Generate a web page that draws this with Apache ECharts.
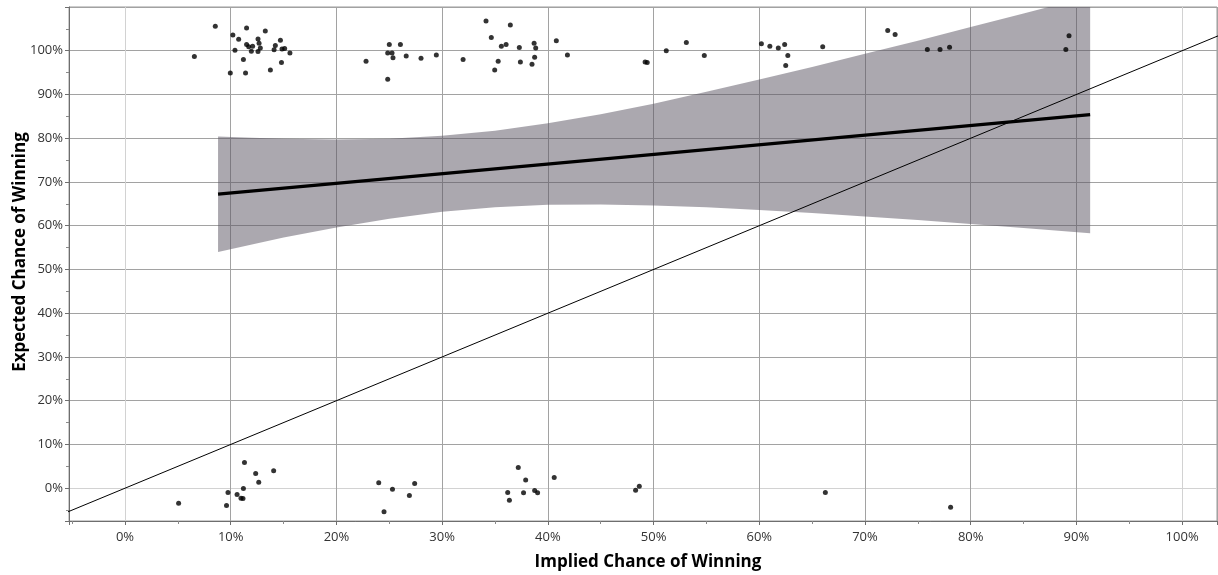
<!DOCTYPE html>
<html>
<head>
<meta charset="utf-8">
<script src="https://cdn.jsdelivr.net/npm/echarts@6/dist/echarts.min.js"></script>
<style>
  html, body { margin: 0; padding: 0; background: #fff; }
  #chart { width: 1218px; height: 575px; }
</style>
</head>
<body>
<div id="chart"></div>
<script>
// outcomes near 100% (won)
var winX = [6.56, 8.54, 10.2, 10.4, 9.96, 10.75, 11.5, 11.5, 11.7, 11.2, 11.4, 11.95, 12.07, 12.58, 12.68, 12.8, 12.58, 13.27, 13.75, 14.22, 14.1, 14.7, 14.85, 15.1, 14.8, 15.6,
    22.8, 24.85, 25.0, 25.26, 25.35, 24.85, 26.05, 26.6, 28.0, 29.45, 31.98,
    34.15, 34.65, 34.97, 35.3, 35.6, 36.05, 36.45, 37.3, 37.4, 38.5, 38.7, 38.85, 38.75, 40.8, 41.85,
    49.2, 49.4, 51.2, 53.1, 54.8, 60.2, 61.0, 61.8, 62.4, 62.7, 62.5, 66.0, 72.15, 72.85, 75.9, 77.1, 78.0, 89.3, 89.0];
var winY = [98.7, 105.6, 103.6, 100.1, 94.9, 102.6, 105.2, 101.4, 100.9, 98.0, 94.9, 99.9, 101.05, 102.7, 101.7, 100.6, 99.8, 104.5, 95.6, 101.2, 100.2, 102.4, 100.4, 100.5, 97.3, 99.5,
    97.6, 99.5, 101.4, 99.5, 98.4, 93.5, 101.4, 98.8, 98.3, 99.0, 98.0,
    106.8, 103.0, 95.6, 97.6, 101.0, 101.4, 105.9, 100.75, 97.4, 96.9, 101.7, 100.6, 98.5, 102.3, 99.0,
    97.4, 97.3, 100.0, 101.9, 98.9, 101.6, 101.0, 100.6, 101.4, 98.9, 96.6, 100.9, 104.6, 103.7, 100.3, 100.3, 100.8, 103.4, 100.3];
// outcomes near 0% (lost)
var lossX = [5.07, 9.6, 9.74, 10.6, 10.97, 11.16, 11.2, 11.3, 12.36, 12.65, 14.06, 24.0, 24.5, 25.3, 26.9, 27.4,
    36.2, 36.36, 37.2, 37.9, 37.7, 38.75, 39.03, 40.6, 48.3, 48.65, 66.25, 78.1];
var lossY = [-3.43, -3.96, -0.99, -1.45, -2.28, -2.36, -0.08, 5.86, 3.35, 1.37, 3.96, 1.22, -5.4, -0.23, -1.68, 1.07,
    -0.99, -2.74, 4.72, 1.9, -1.07, -0.53, -1.07, 2.44, -0.46, 0.46, -0.99, -4.34];

// fit line and its confidence band
var fitX = [8.8, 91.3];
var fitY = [67.2, 85.4];
var bandX = [8.8, 12, 15, 20, 25, 30, 35, 40, 45, 50, 55, 60, 65, 70, 75, 80, 85, 91.3];
var bandUpper = [80.4, 80.1, 79.9, 79.7, 79.9, 80.55, 81.7, 83.4, 85.5, 87.9, 90.6, 93.4, 96.3, 99.3, 102.3, 105.4, 108.5, 112.5];
var bandLower = [54.0, 55.7, 57.3, 59.6, 61.6, 63.2, 64.2, 64.8, 64.85, 64.6, 64.2, 63.6, 62.9, 62.1, 61.3, 60.4, 59.5, 58.3];

// y = x reference
var refEnds = [-6, 104];

var xMin = -5.3, xMax = 103.3, yMin = -7.5, yMax = 110;

function zip(a, b) {
    return a.map(function (v, i) { return [v, b[i]]; });
}

var gridGray = '#a2a2a2', gridLight = '#d2d2d2';
// split line colours in tick order: min, 0, 10 ... 100, max
var xLineColors = [], yLineColors = [];
for (var i = 0; i < 13; i++) {
    xLineColors.push(i === 1 || i === 11 ? gridLight : gridGray);
    yLineColors.push(i === 1 ? gridLight : gridGray);
}

var myChart = echarts.init(document.getElementById('chart'));

var axisFont = { fontFamily: 'Open Sans', fontSize: 13, color: '#333' };

// band polygon: upper edge left->right, lower edge right->left
function renderBand(params, api) {
    var pts = [];
    for (var i = 0; i < bandX.length; i++) pts.push(api.coord([bandX[i], bandUpper[i]]));
    for (var j = bandX.length - 1; j >= 0; j--) pts.push(api.coord([bandX[j], bandLower[j]]));
    var cs = params.coordSys;
    return {
        type: 'polygon',
        shape: { points: pts },
        style: { fill: 'rgba(88,82,96,0.5)' },
        clipPath: { type: 'rect', shape: { x: cs.x, y: cs.y, width: cs.width, height: cs.height } },
        silent: true
    };
}

option = {
    animation: false,
    grid: {
        left: 69, right: 1, top: 7, bottom: 54,
        outerBoundsMode: 'none',
        containLabel: false,
        show: true, borderColor: '#9a9a9a', borderWidth: 1
    },
    xAxis: {
        type: 'value',
        min: xMin, max: xMax,
        splitNumber: 10,
        name: 'Implied Chance of Winning',
        nameLocation: 'middle',
        nameGap: 33,
        nameMoveOverlap: false,
        nameTextStyle: { fontFamily: 'Open Sans', fontSize: 17, fontWeight: 'bold', color: '#000', padding: [0, 0, 0, 10] },
        axisLine: { show: true, onZero: false, lineStyle: { color: '#6e6e6e', width: 1 } },
        axisTick: { show: true, length: 4, lineStyle: { color: '#6e6e6e' } },
        minorTick: { show: true, splitNumber: 2, length: 3, lineStyle: { color: '#8a8a8a' } },
        axisLabel: {
            margin: 10,
            showMinLabel: false, showMaxLabel: false,
            fontFamily: axisFont.fontFamily, fontSize: axisFont.fontSize, color: axisFont.color,
            formatter: function (v) { return v + '%'; }
        },
        splitLine: { show: true, lineStyle: { color: xLineColors, width: 1 } }
    },
    yAxis: {
        type: 'value',
        min: yMin, max: yMax,
        splitNumber: 12,
        name: 'Expected Chance of Winning',
        nameLocation: 'middle',
        nameGap: 40,
        nameMoveOverlap: false,
        nameTextStyle: { fontFamily: 'Open Sans', fontSize: 17, fontWeight: 'bold', color: '#000', padding: [0, 0, 0, 24] },
        axisLine: { show: true, onZero: false, lineStyle: { color: '#6e6e6e', width: 1 } },
        axisTick: { show: true, length: 4, lineStyle: { color: '#6e6e6e' } },
        minorTick: { show: true, splitNumber: 2, length: 3, lineStyle: { color: '#8a8a8a' } },
        axisLabel: {
            margin: 6,
            showMinLabel: false, showMaxLabel: false,
            fontFamily: axisFont.fontFamily, fontSize: axisFont.fontSize, color: axisFont.color,
            formatter: function (v) { return v + '%'; }
        },
        splitLine: { show: true, lineStyle: { color: yLineColors, width: 1 } }
    },
    series: [
        {
            type: 'custom',
            renderItem: renderBand,
            data: [0],
            silent: true,
            z: 1
        },
        {
            type: 'line',
            data: zip(refEnds, refEnds),
            symbol: 'none',
            lineStyle: { color: '#000', width: 1 },
            z: 3
        },
        {
            type: 'line',
            data: zip(fitX, fitY),
            symbol: 'none',
            lineStyle: { color: '#000', width: 3.3 },
            z: 4
        },
        {
            type: 'scatter',
            data: zip(winX, winY).concat(zip(lossX, lossY)),
            symbolSize: 5,
            itemStyle: { color: '#000' },
            z: 5
        }
    ]
};

myChart.setOption(option);
</script>
</body>
</html>
